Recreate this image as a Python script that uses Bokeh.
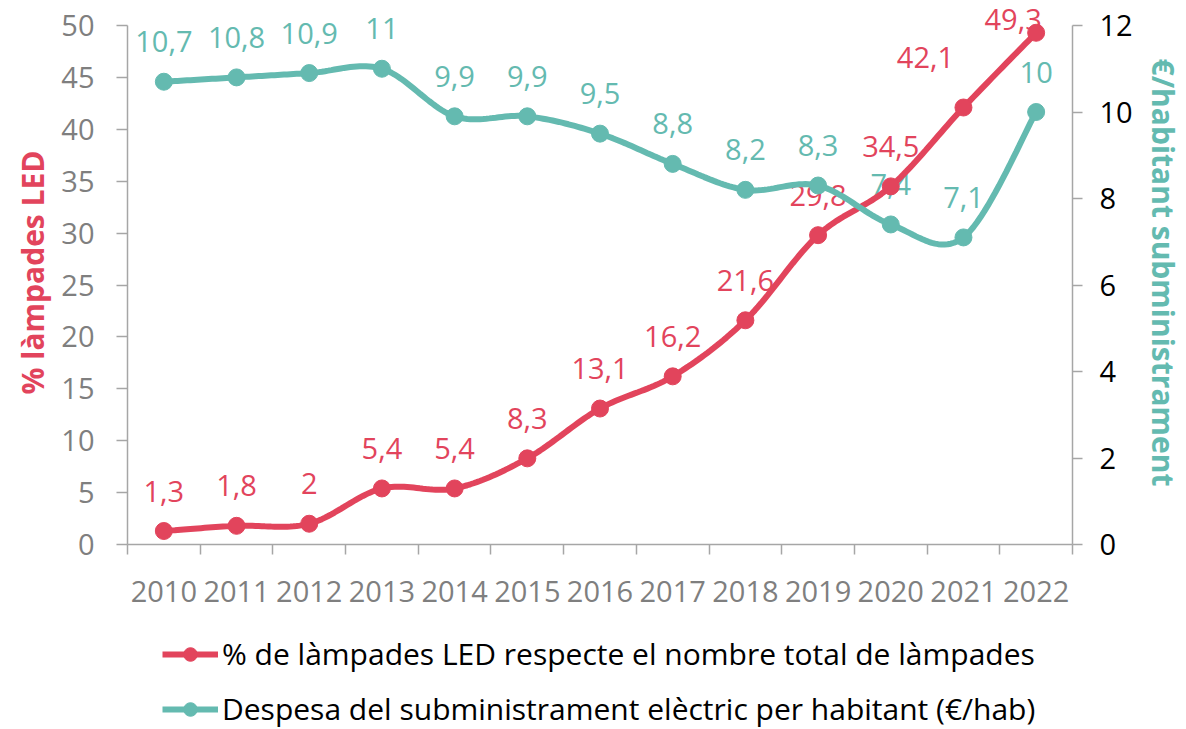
import numpy as np
from bokeh.plotting import figure
from bokeh.layouts import column
from bokeh.models import (ColumnDataSource, Range1d, LinearAxis, FixedTicker,
                          Legend, LegendItem, LabelSet)
from bokeh.embed import file_html
from bokeh.resources import INLINE
from bokeh.core.properties import value

# ---------------- data ----------------
years = [2010, 2011, 2012, 2013, 2014, 2015, 2016, 2017, 2018, 2019, 2020, 2021, 2022]
year_labels = [str(y) for y in years]
led_pct = [1.3, 1.8, 2.0, 5.4, 5.4, 8.3, 13.1, 16.2, 21.6, 29.8, 34.5, 42.1, 49.3]
spend = [10.7, 10.8, 10.9, 11.0, 9.9, 9.9, 9.5, 8.8, 8.2, 8.3, 7.4, 7.1, 10.0]
led_name = "% de làmpades LED respecte el nombre total de làmpades"
spend_name = "Despesa del subministrament elèctric per habitant (€/hab)"
left_title = "% làmpades LED"
right_title = "€/habitant subministrament"
left_ticks = [0, 5, 10, 15, 20, 25, 30, 35, 40, 45, 50]
right_ticks = [0, 2, 4, 6, 8, 10, 12]

# label placement (screen pixels, style only)
led_label_dx = [0, 0, 0, 0, 0, 0, 0, 0, 0, 0, 0, -38, -23]
led_label_dy = [40, 40, 40, 40, 40, 40, 40, 40, 40, 40, 40, 50, 13]
spend_label_dx = [0] * 13
spend_label_dy = [40] * 13

RED = "#E2445C"
TEAL = "#64BAB0"
GREY = "#7F7F7F"
AXIS = "#A6A6A6"
FONT = "Open Sans"
FS = "29px"

FRAME_H = 519      # pixel height of the 0..max span
TOP_PAD = 25       # room above the axis top for labels


def fmt(v):
    return f"{v:g}".replace(".", ",")


def smooth(xs, ys, n=24):
    """Cubic Bezier smoothing through the points (Excel-style line smoothing)."""
    xs = np.asarray(xs, float)
    ys = np.asarray(ys, float)
    px = np.concatenate([[xs[0]], xs, [xs[-1]]])
    py = np.concatenate([[ys[0]], ys, [ys[-1]]])
    ox, oy = [], []
    t = np.linspace(0, 1, n)
    for i in range(1, len(px) - 2):
        p0 = np.array([px[i], py[i]])
        p3 = np.array([px[i + 1], py[i + 1]])
        c1 = p0 + (np.array([px[i + 1], py[i + 1]]) - np.array([px[i - 1], py[i - 1]])) / 6
        c2 = p3 - (np.array([px[i + 2], py[i + 2]]) - np.array([px[i], py[i]])) / 6
        b = ((1 - t) ** 3)[:, None] * p0 + (3 * (1 - t) ** 2 * t)[:, None] * c1 \
            + (3 * (1 - t) * t ** 2)[:, None] * c2 + (t ** 3)[:, None] * p3
        if i > 1:
            b = b[1:]
        ox.extend(b[:, 0])
        oy.extend(b[:, 1])
    return ox, oy


led_src = ColumnDataSource(dict(x=years, y=led_pct, lab=[fmt(v) for v in led_pct],
                                dx=led_label_dx, dy=led_label_dy))
spend_src = ColumnDataSource(dict(x=years, y=spend, lab=[fmt(v) for v in spend],
                                  dx=spend_label_dx, dy=spend_label_dy))
lx, ly = smooth(years, led_pct)
sx, sy = smooth(years, spend)

scale = (FRAME_H + TOP_PAD) / FRAME_H
p = figure(frame_width=945, frame_height=FRAME_H + TOP_PAD,
           x_range=Range1d(years[0] - 0.5, years[-1] + 0.5),
           y_range=Range1d(0, left_ticks[-1] * scale),
           output_backend="svg", toolbar_location=None,
           x_axis_location=None, y_axis_location=None,
           min_border_left=127, min_border_right=114, min_border_top=0,
           min_border_bottom=75)
p.extra_y_ranges = {"right": Range1d(0, right_ticks[-1] * scale)}
p.outline_line_color = None
p.xgrid.visible = False
p.ygrid.visible = False
p.background_fill_color = "white"
p.border_fill_color = "white"

# lines
led_line = p.line(lx, ly, line_color=RED, line_width=6)
sp_line = p.line(sx, sy, line_color=TEAL, line_width=6, y_range_name="right")

# data labels
p.add_layout(LabelSet(x="x", y="y", text="lab", source=spend_src, y_range_name="right",
                      text_font=value(FONT), text_font_size=FS, text_color=TEAL,
                      text_align="center", text_baseline="middle",
                      x_offset="dx", y_offset="dy", level="underlay"))
p.add_layout(LabelSet(x="x", y="y", text="lab", source=led_src,
                      text_font=value(FONT), text_font_size=FS, text_color=RED,
                      text_align="center", text_baseline="middle",
                      x_offset="dx", y_offset="dy", level="underlay"))

led_pts = p.scatter("x", "y", source=led_src, size=17, fill_color=RED, line_color=RED)
sp_pts = p.scatter("x", "y", source=spend_src, size=17, fill_color=TEAL, line_color=TEAL,
                   y_range_name="right")

# axes
def style(ax, label_color):
    ax.axis_line_color = AXIS
    ax.axis_line_width = 1.5
    ax.major_tick_line_color = AXIS
    ax.major_tick_line_width = 1.5
    ax.minor_tick_line_color = AXIS
    ax.minor_tick_line_width = 1.5
    ax.major_label_text_font = FONT
    ax.major_label_text_font_size = FS
    ax.major_label_text_color = label_color
    ax.axis_label_text_font = FONT
    ax.axis_label_text_font_size = "30px"
    ax.axis_label_text_font_style = "bold"


left = LinearAxis(ticker=FixedTicker(ticks=left_ticks, minor_ticks=[]), axis_label=left_title,
                  bounds=(left_ticks[0], left_ticks[-1]))
style(left, GREY)
left.major_tick_out = 11
left.major_tick_in = 0
left.major_label_standoff = 22
left.axis_label_text_color = RED
left.axis_label_standoff = 5
p.add_layout(left, "left")

right = LinearAxis(y_range_name="right", ticker=FixedTicker(ticks=right_ticks, minor_ticks=[]),
                   axis_label=right_title, bounds=(right_ticks[0], right_ticks[-1]))
style(right, "#000000")
right.major_tick_out = 10
right.major_tick_in = 0
right.major_label_standoff = 17
right.axis_label_text_color = TEAL
right.axis_label_standoff = 7
p.add_layout(right, "right")

bottom = LinearAxis(ticker=FixedTicker(ticks=years, minor_ticks=[y - 0.5 for y in years] + [years[-1] + 0.5]),
                    major_label_overrides={y: l for y, l in zip(years, year_labels)})
style(bottom, GREY)
bottom.major_tick_out = 0
bottom.major_tick_in = 0
bottom.minor_tick_out = 10
bottom.minor_tick_in = 0
bottom.major_label_standoff = 26
p.add_layout(bottom, "below")

# ---------------- legend (separate strip below the chart) ----------------
lf = figure(width=1186, height=110, output_backend="svg", toolbar_location=None,
            x_range=Range1d(0, 1), y_range=Range1d(0, 1),
            x_axis_location=None, y_axis_location=None,
            min_border_left=0, min_border_right=0, min_border_top=0, min_border_bottom=0)
lf.outline_line_color = None
lf.xgrid.visible = False
lf.ygrid.visible = False
# same sources; their points lie outside this strip's view, only the legend swatches show
lg_led_line = lf.line("x", "y", source=led_src, line_color=RED, line_width=6)
lg_led_pts = lf.scatter("x", "y", source=led_src, size=17, fill_color=RED, line_color=RED)
lg_sp_line = lf.line("x", "y", source=spend_src, line_color=TEAL, line_width=6)
lg_sp_pts = lf.scatter("x", "y", source=spend_src, size=17, fill_color=TEAL, line_color=TEAL)

legend = Legend(items=[LegendItem(label=led_name, renderers=[lg_led_line, lg_led_pts]),
                       LegendItem(label=spend_name, renderers=[lg_sp_line, lg_sp_pts])],
                orientation="vertical", location=(35, 0),
                label_text_font=FONT, label_text_font_size="30px", label_text_color="#000000",
                glyph_width=56, glyph_height=34, label_standoff=4, spacing=14,
                padding=0, margin=0, border_line_color=None, background_fill_alpha=0)
lf.add_layout(legend, "center")

layout = column(p, lf, spacing=0)
open("out.html", "w").write(file_html(layout, INLINE))
